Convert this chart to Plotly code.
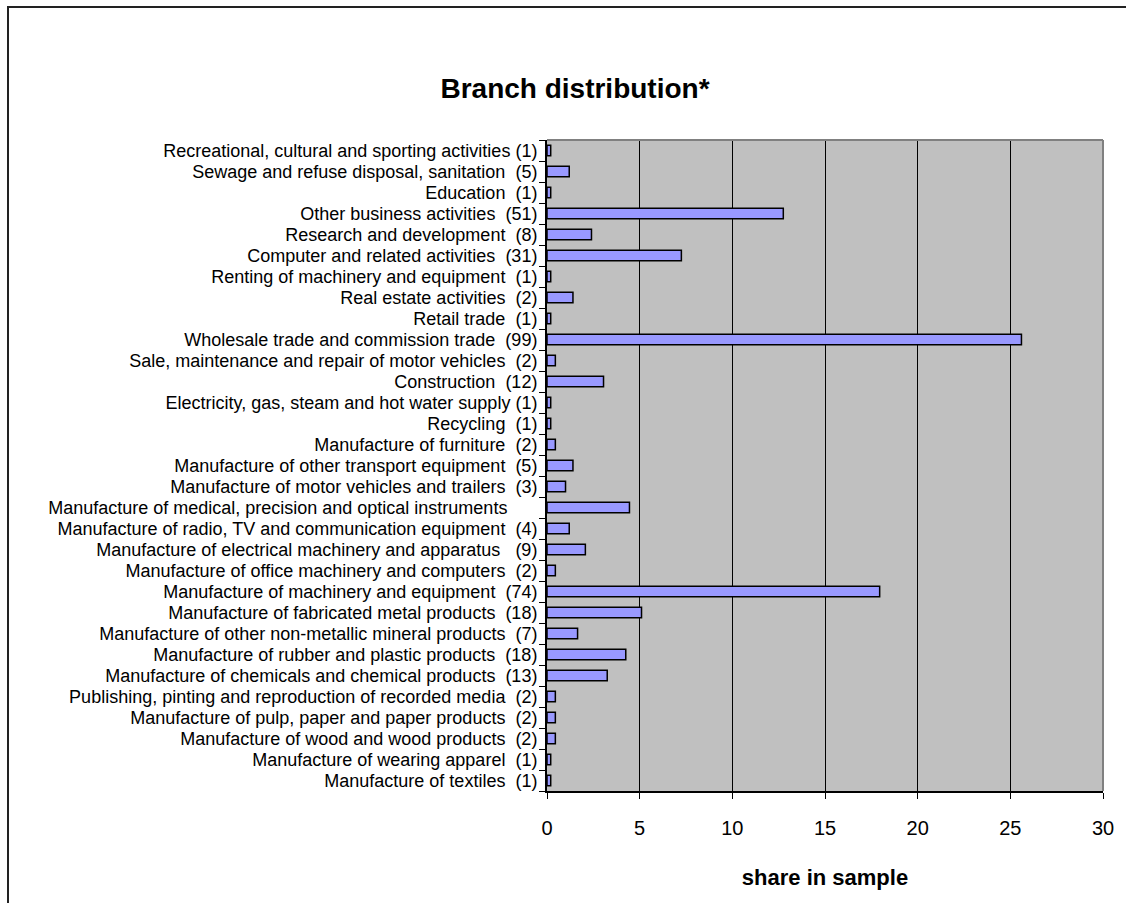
import plotly.graph_objects as go

# Branches listed top to bottom, with number of firms in brackets
categories = [
    "Recreational, cultural and sporting activities (1)",
    "Sewage and refuse disposal, sanitation\u00a0\u00a0(5)",
    "Education\u00a0\u00a0(1)",
    "Other business activities\u00a0\u00a0(51)",
    "Research and development\u00a0\u00a0(8)",
    "Computer and related activities\u00a0\u00a0(31)",
    "Renting of machinery and equipment\u00a0\u00a0(1)",
    "Real estate activities\u00a0\u00a0(2)",
    "Retail trade\u00a0\u00a0(1)",
    "Wholesale trade and commission trade\u00a0\u00a0(99)",
    "Sale, maintenance and repair of motor vehicles\u00a0\u00a0(2)",
    "Construction\u00a0\u00a0(12)",
    "Electricity, gas, steam and hot water supply (1)",
    "Recycling\u00a0\u00a0(1)",
    "Manufacture of furniture\u00a0\u00a0(2)",
    "Manufacture of other transport equipment\u00a0\u00a0(5)",
    "Manufacture of motor vehicles and trailers\u00a0\u00a0(3)",
    "Manufacture of medical, precision and optical instruments\u00a0\u00a0\u00a0\u00a0\u00a0\u00a0",
    "Manufacture of radio, TV and communication equipment\u00a0\u00a0(4)",
    "Manufacture of electrical machinery and apparatus\u00a0\u00a0\u00a0(9)",
    "Manufacture of office machinery and computers\u00a0\u00a0(2)",
    "Manufacture of machinery and equipment\u00a0\u00a0(74)",
    "Manufacture of fabricated metal products\u00a0\u00a0(18)",
    "Manufacture of other non-metallic mineral products\u00a0\u00a0(7)",
    "Manufacture of rubber and plastic products\u00a0\u00a0(18)",
    "Manufacture of chemicals and chemical products\u00a0\u00a0(13)",
    "Publishing, pinting and reproduction of recorded media\u00a0\u00a0(2)",
    "Manufacture of pulp, paper and paper products\u00a0\u00a0(2)",
    "Manufacture of wood and wood products\u00a0\u00a0(2)",
    "Manufacture of wearing apparel\u00a0\u00a0(1)",
    "Manufacture of textiles\u00a0\u00a0(1)",
]

# Share in sample, percent
share = [
    0.2, 1.2, 0.2, 12.75, 2.4, 7.25, 0.2, 1.4, 0.2, 25.6,
    0.45, 3.05, 0.2, 0.2, 0.45, 1.4, 1.0, 4.45, 1.2, 2.07,
    0.45, 17.95, 5.1, 1.65, 4.25, 3.25, 0.45, 0.45, 0.45, 0.2, 0.2,
]

x_ticks = [0, 5, 10, 15, 20, 25, 30]

W, H = 1126, 903
L, R, T, B = 547, 23, 140, 112
plot_w = W - L - R
plot_h = H - T - B

FONT = "Liberation Sans, Arial, sans-serif"

fig = go.Figure(
    go.Bar(
        x=share,
        y=categories,
        orientation="h",
        width=0.5,
        marker=dict(color="#9999FF", line=dict(color="black", width=1.5)),
        hoverinfo="x+y",
    )
)


def px_x(p):
    return (p - L) / plot_w


def px_y(p):
    return (H - B - p) / plot_h


shapes = [
    # outer chart frame (left and top edges visible)
    dict(type="rect", xref="paper", yref="paper",
         x0=px_x(8), x1=px_x(W + 20), y0=px_y(H + 20), y1=px_y(7),
         line=dict(color="#222222", width=2), layer="below"),
    # plot area border, top and right
    dict(type="line", xref="paper", yref="paper", x0=0, x1=1, y0=1, y1=1,
         line=dict(color="#808080", width=2), layer="above"),
    dict(type="line", xref="paper", yref="paper", x0=1, x1=1, y0=0, y1=1,
         line=dict(color="#808080", width=2), layer="above"),
]

fig.update_layout(
    width=W,
    height=H,
    margin=dict(l=L, r=R, t=T, b=B, pad=0),
    paper_bgcolor="white",
    plot_bgcolor="#C0C0C0",
    font=dict(family=FONT, color="black", size=18),
    title=dict(
        text="<b>Branch distribution*</b>",
        x=575 / W, xref="container", xanchor="center",
        y=1 - 88 / H, yref="container", yanchor="middle",
        font=dict(family=FONT, size=28, color="black"),
    ),
    showlegend=False,
    bargap=0.5,
    shapes=shapes,
    xaxis=dict(
        range=[0, 30],
        tickvals=x_ticks,
        ticktext=[str(v) for v in x_ticks],
        showgrid=True, gridcolor="black", gridwidth=1,
        showline=True, linecolor="black", linewidth=2,
        ticks="outside", ticklen=6, tickcolor="black", tickwidth=1,
        tickfont=dict(family=FONT, size=20),
        ticklabelstandoff=12,
        zeroline=False,
        title=dict(text="<b>share in sample</b>", standoff=32,
                   font=dict(family=FONT, size=22)),
    ),
    yaxis=dict(
        autorange="reversed",
        type="category",
        tickmode="array",
        tickvals=categories,
        ticktext=categories,
        showgrid=False,
        showline=True, linecolor="black", linewidth=2,
        ticks="outside", ticklen=6, tickcolor="black", tickwidth=1,
        tickson="boundaries",
        tickfont=dict(family=FONT, size=18),
        ticklabelstandoff=4,
    ),
)

fig.write_html("out.html")
